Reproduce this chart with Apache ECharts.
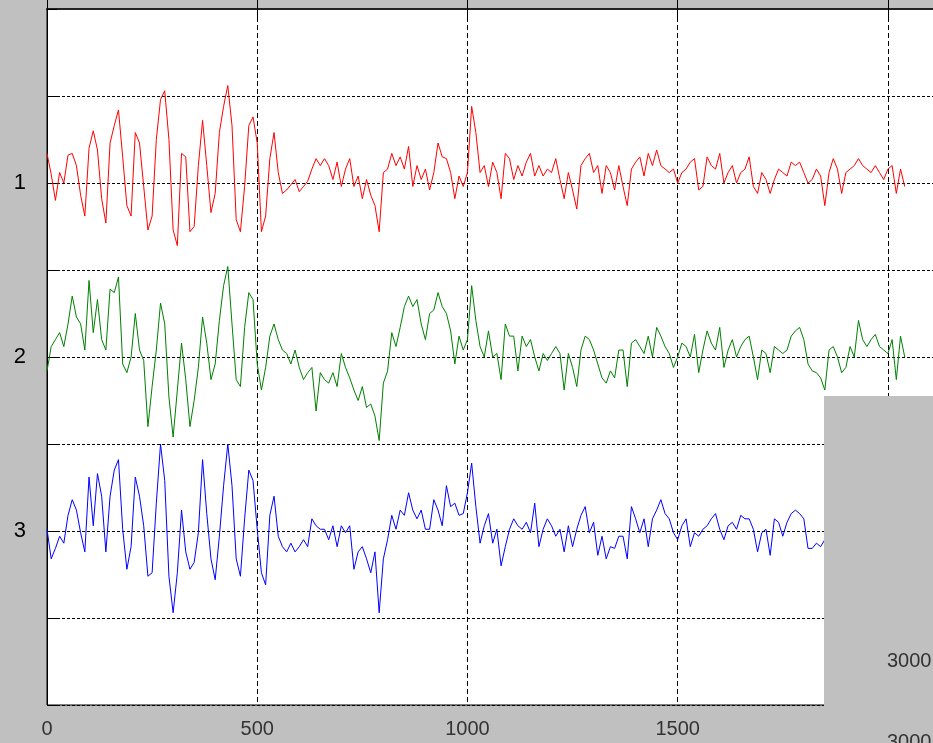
<!DOCTYPE html>
<html><head><meta charset="utf-8">
<script src="https://cdn.jsdelivr.net/npm/echarts@6/dist/echarts.min.js"></script>
<style>html,body{margin:0;padding:0;background:#c0c0c0;}#c{width:933px;height:743px;}</style>
</head><body><div id="c"></div>
<script>
// sample spacing along x (samples are read every 10 units)
const SAMPLE_STEP = 10;
// channel offsets (traces are stacked at y = 1, 2, 3 on a reversed axis)
const channels = [1, 2, 3];
const yTickLabels = ['1', '2', '3'];
const xTickLabels = ['0', '500', '1000', '1500', '2000'];
const overlayLabels = ['3000', '3000'];

// deflection of each trace from its channel line (positive = upward on screen)
const redTrace = [
  0.17,0.05,-0.1,0.06,0,0.16,0.17,0.1,-0.07,-0.19,
  0.2,0.3,0.19,-0.09,-0.23,0.23,0.33,0.42,0.15,-0.13,
  -0.19,0.29,0.23,-0.02,-0.27,-0.19,0.25,0.48,0.53,0.25,
  -0.27,-0.36,0.17,0.15,-0.28,-0.25,0.1,0.36,0.1,-0.17,
  -0.06,0.29,0.44,0.56,0.33,-0.21,-0.28,-0.02,0.33,0.38,
  0.23,-0.28,-0.19,0.14,0.29,0.06,-0.06,-0.04,-0.01,0.02,
  -0.05,-0.02,0.01,0.08,0.14,0.1,
  0.14,0.1,0.02,0.12,-0.02,0.08,0.14,-0.02,0.04,-0.09,
  0.02,-0.07,-0.13,-0.28,0.06,0.08,0.17,0.1,0.15,0.08,
  0.21,-0.02,0.1,0.02,0.08,-0.04,0.06,0.23,0.15,0.14,
  0.06,-0.09,0.04,-0.02,0.06,0.44,0.29,0.06,0.1,-0.02,
  0.12,0.06,-0.09,0.17,0.14,0.02,0.1,0.04,0.12,0.17,
  0.04,0.1,0.04,0.08,0.06,0.14,0.02,-0.09,0.06,-0.04,
  -0.15,0.1,0.14,0.17,0.06,0.1,-0.06,0.1,0.06,-0.04,
  0.1,
  -0.02,-0.13,0.08,0.12,0.15,0.04,0.17,0.1,0.19,0.1,
  0.08,0.06,0.08,0,0.06,0.08,0.12,0.14,-0.04,-0.02,
  0.15,0.1,0.08,0.17,0,0.06,0.1,0,0.06,0.08,
  0.15,-0.02,-0.06,0.06,0.02,-0.06,0.02,0.08,0.06,0.04,
  0.12,0.1,0.12,0.06,0,0.02,0.08,0.04,-0.13,0.06,
  0.14,0.08,-0.06,0.06,0.08,0.1,0.14,0.1,0.08,0.06,
  0.1,0.06,0.02,0.08,0.1,-0.06,0.08,-0.02
];
const greenTrace = [
  -0.08,0.06,0.1,0.14,0.06,0.19,0.35,0.23,0.19,0.04,
  0.44,0.14,0.33,0.1,0.04,0.39,0.37,0.46,-0.04,-0.09,
  0,0.25,0.04,-0.02,-0.4,-0.17,0.04,0.31,0.19,-0.23,
  -0.46,-0.19,0.08,-0.13,-0.4,-0.25,-0.06,0.23,0.08,-0.13,
  -0.04,0.21,0.41,0.52,0.19,-0.13,-0.17,0.17,0.37,0.33,
  -0.04,-0.19,-0.06,0.12,0.19,0.1,0.04,0.02,-0.04,0.04,
  -0.06,-0.13,-0.09,-0.06,-0.31,-0.09,
  -0.13,-0.15,-0.09,-0.17,0.02,-0.06,-0.12,-0.19,-0.25,-0.17,
  -0.29,-0.27,-0.34,-0.48,-0.15,-0.08,0.14,0.06,0.17,0.29,
  0.35,0.29,0.33,0.19,0.1,0.25,0.27,0.37,0.29,0.25,
  0.15,-0.04,0.12,0.04,0.1,0.41,0.21,0.06,0,0.15,
  0,0.02,-0.13,0.19,0.12,0.12,-0.08,0.12,0.06,0.1,
  0,-0.08,0.02,-0.02,0.02,0.06,0.02,-0.19,0.02,-0.06,
  -0.17,0.04,0.12,0.1,0.04,-0.04,-0.12,-0.15,-0.08,-0.12,
  0.04,
  0.04,-0.17,0.08,0.1,0.06,0.02,0.12,0,0.17,0.12,
  0.06,0.02,-0.06,0,0.08,0.06,0,0.13,-0.09,0.04,
  0.15,0.08,0.04,0.17,-0.06,0.04,0.1,0,0.06,0.1,
  0.12,0,-0.13,0.04,0.02,-0.09,0.06,0.04,0.02,0.04,
  0.12,0.15,0.17,0.1,-0.04,-0.08,-0.09,-0.12,-0.19,0.04,
  0.06,0,-0.09,-0.06,0.06,0,0.21,0.1,0.06,0.1,
  0.13,0.06,0.04,0.02,0.1,-0.13,0.12,0
];
const blueTrace = [
  0.01,-0.16,-0.1,-0.03,-0.07,0.09,0.18,0.12,-0.01,-0.12,
  0.31,0.03,0.33,0.2,-0.12,0.2,0.35,0.41,0.01,-0.22,
  -0.09,0.31,0.2,0.03,-0.26,-0.24,0.16,0.5,0.29,-0.26,
  -0.47,-0.24,0.12,-0.12,-0.22,-0.18,-0.01,0.41,0.1,-0.16,
  -0.28,-0.03,0.26,0.5,0.26,-0.16,-0.26,0.07,0.35,0.29,
  0.01,-0.24,-0.31,0.09,0.2,-0.03,-0.09,-0.12,-0.07,-0.12,
  -0.09,-0.05,-0.09,0.07,0.03,0.01,
  0.01,-0.05,0.03,-0.09,0.03,-0.01,0.03,-0.22,-0.12,-0.09,
  -0.16,-0.24,-0.12,-0.47,-0.16,-0.05,0.09,0.01,0.12,0.09,
  0.22,0.12,0.07,0.12,0.01,0.01,0.18,0.12,0.03,0.26,
  0.14,0.16,0.09,0.1,0.22,0.39,0.14,-0.07,0.03,0.1,
  -0.07,0.01,-0.2,-0.09,0.01,0.07,0.03,0.01,0.05,-0.01,
  0.16,-0.09,0.01,0.07,0.03,-0.03,0.01,-0.12,0.03,-0.09,
  0.01,0.09,0.14,-0.01,0.05,-0.14,-0.03,-0.16,-0.09,-0.1,
  -0.03,
  -0.03,-0.16,0.14,0.07,-0.01,0.07,-0.09,0.07,0.12,0.18,
  0.1,0.07,-0.01,-0.05,0.03,0.07,-0.09,-0.01,-0.03,0.01,
  0.03,0.07,0.1,0.01,-0.05,0.03,0.05,0.01,0.09,0.07,
  0.07,0.01,-0.12,-0.01,0.01,-0.14,0.07,0.05,-0.03,0.05,
  0.1,0.12,0.1,0.07,-0.1,-0.1,-0.07,-0.09,-0.05
];

const traces = [redTrace, greenTrace, blueTrace];
const colors = ['#ff0000', '#008000', '#0000ff'];
const FONT = "'Liberation Sans', Arial, sans-serif";

function toPoints(trace, ch) {
  return trace.map((d, i) => [i * SAMPLE_STEP, ch - d]);
}

const chart = echarts.init(document.getElementById('c'), null, { renderer: 'canvas' });
chart.setOption({
  animation: false,
  backgroundColor: '#c0c0c0',
  grid: { left: 47, top: 9, width: 925, height: 696, outerBoundsMode: 'none', containLabel: false,
    show: true, backgroundColor: '#ffffff', borderColor: '#000', borderWidth: 1 },
  xAxis: [{
    type: 'value', min: 0, max: 2200, interval: 500, position: 'bottom',
    axisLine: { show: true, lineStyle: { color: '#000', width: 1 } },
    axisTick: { show: true, inside: true, length: 9, lineStyle: { color: '#000' } },
    axisLabel: { margin: 14, color: '#333', fontSize: 20, fontFamily: FONT,
      formatter: v => xTickLabels.indexOf(String(v)) >= 0 ? String(v) : '' },
    splitLine: { show: true, lineStyle: { color: '#000', width: 1, type: [5, 3] } }
  }, {
    type: 'value', min: 0, max: 2200, interval: 500, position: 'top',
    axisLine: { show: true, lineStyle: { color: '#222', width: 2 } },
    axisTick: { show: true, inside: true, length: 9, lineStyle: { color: '#000' } },
    axisLabel: { show: false }, splitLine: { show: false }
  }],
  yAxis: {
    type: 'value', inverse: true, min: 0, max: 4, interval: 0.5,
    axisLine: { show: true, lineStyle: { color: '#000' } },
    axisTick: { show: true, inside: true, length: 10, lineStyle: { color: '#000' } },
    axisLabel: { margin: 21, color: '#000', fontSize: 22, fontFamily: FONT,
      formatter: v => yTickLabels.indexOf(String(v)) >= 0 ? String(v) : '' },
    splitLine: { show: true, lineStyle: { color: '#000', width: 1, type: [3, 2] } }
  },
  series: traces.map((t, k) => ({
    type: 'line', xAxisIndex: 0, data: toPoints(t, channels[k]),
    showSymbol: false, silent: true, lineStyle: { color: colors[k], width: 1 },
    itemStyle: { color: colors[k] }, z: 3
  })),
  graphic: [
    { type: 'rect', z: 100, shape: { x: 824, y: 396, width: 120, height: 360 }, style: { fill: '#c0c0c0' } },
    { type: 'text', z: 101, x: 887, y: 651, style: { text: overlayLabels[0], fill: '#333', font: "20px " + FONT } },
    { type: 'text', z: 101, x: 887, y: 732, style: { text: overlayLabels[1], fill: '#333', font: "20px " + FONT } }
  ]
});
</script></body></html>
